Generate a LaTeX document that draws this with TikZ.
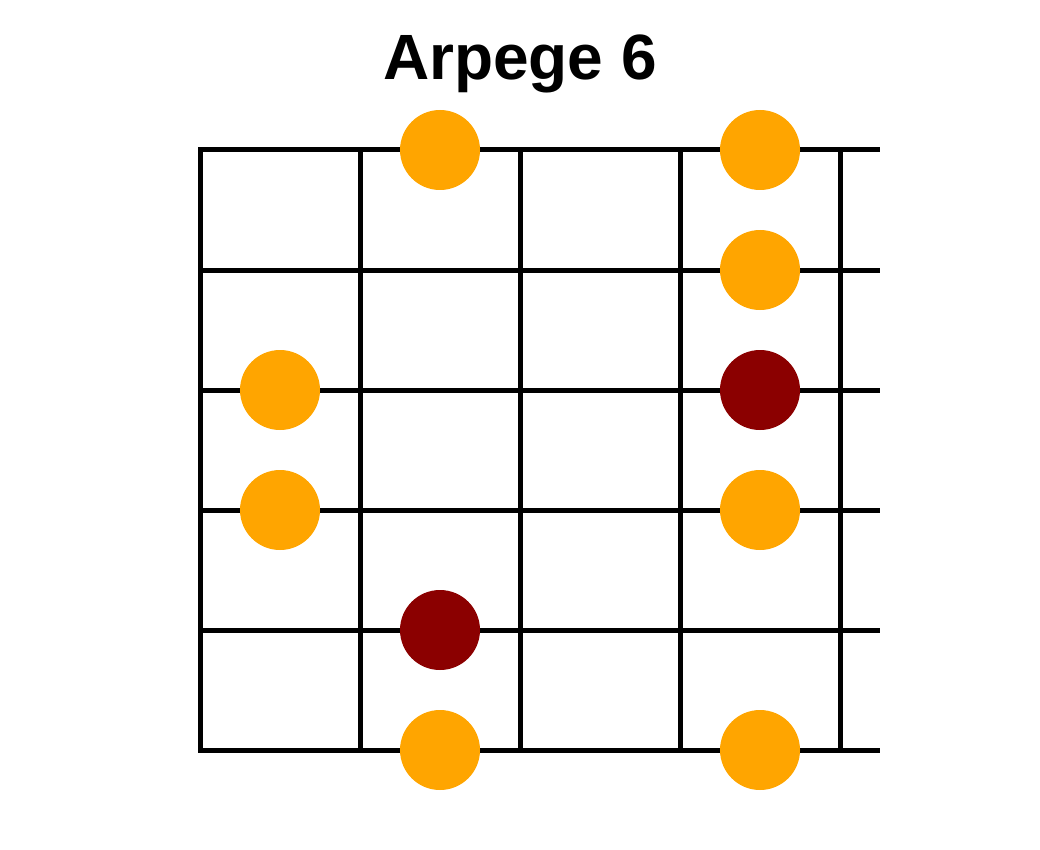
\documentclass[tikz,border=0pt]{standalone}
\usepackage{fontspec}
\setmainfont{Liberation Sans}
\definecolor{noteorange}{RGB}{255,165,0}
\definecolor{rootred}{RGB}{139,0,0}
\begin{document}
\begin{tikzpicture}[x=1pt,y=-1pt,
  fret/.style={line width=5pt,black},
  note/.style={circle,fill=noteorange,minimum size=80pt,inner sep=0pt},
  root/.style={circle,fill=rootred,minimum size=80pt,inner sep=0pt}]
\useasboundingbox (0,0) rectangle (1040,850);
\node[anchor=base,font=\bfseries\fontsize{64}{70}\selectfont] (title) at (520,80) {Arpege 6};
% strings
\foreach \y [count=\i] in {150,270,390,510,630,750}{
  \coordinate (sL\i) at (198,\y);
  \coordinate (sR\i) at (880,\y);
  \draw[fret] (sL\i) -- (sR\i);
}
% frets
\foreach \x [count=\j] in {200,360,520,680,840}{
  \coordinate (fT\j) at (\x,148);
  \coordinate (fB\j) at (\x,752);
  \draw[fret] (fT\j) -- (fB\j);
}
% notes
\node[note] (n1) at (440,150) {};
\node[note] (n2) at (760,150) {};
\node[note] (n3) at (760,270) {};
\node[note] (n4) at (280,390) {};
\node[root] (r1) at (760,390) {};
\node[note] (n5) at (280,510) {};
\node[note] (n6) at (760,510) {};
\node[root] (r2) at (440,630) {};
\node[note] (n7) at (440,750) {};
\node[note] (n8) at (760,750) {};
\end{tikzpicture}
\end{document}
